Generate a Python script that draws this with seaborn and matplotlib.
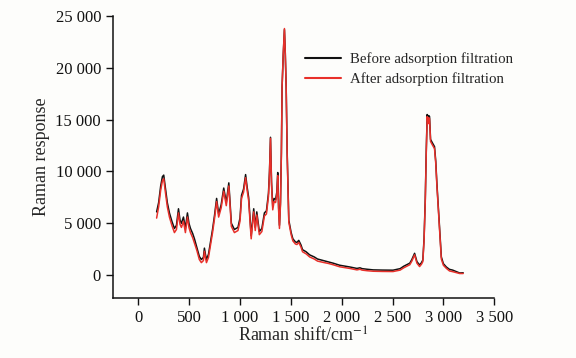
import numpy as np
import pandas as pd
import matplotlib
matplotlib.use("Agg")
import matplotlib.pyplot as plt
import matplotlib.ticker as mticker
import seaborn as sns

# Raman spectrum (cm^-1 and response), 10 points per row
shift = [180, 200, 220, 237, 250, 265, 285, 306, 330, 355,
         375, 395, 410, 424, 444, 463, 483, 498, 513, 535,
         552, 575, 600, 620, 640, 650, 660, 670, 690, 710,
         730, 750, 770, 790, 815, 840, 865, 890, 915, 945,
         980, 1000, 1015, 1035, 1055, 1070, 1085, 1110, 1135, 1150,
         1165, 1190, 1215, 1240, 1260, 1280, 1290, 1300, 1310, 1322,
         1335, 1350, 1362, 1371, 1380, 1388, 1398, 1407, 1414, 1425,
         1437, 1445, 1454, 1464, 1480, 1503, 1520, 1545, 1560, 1578,
         1600, 1615, 1650, 1685, 1730, 1762, 1820, 1870, 1915, 1980,
         2080, 2150, 2180, 2200, 2250, 2310, 2400, 2505, 2575, 2610,
         2640, 2670, 2690, 2717, 2740, 2766, 2785, 2798, 2810, 2822,
         2832, 2841, 2848, 2855, 2864, 2874, 2890, 2913, 2925, 2936,
         2956, 2980, 3000, 3029, 3060, 3091, 3160, 3195]

before = [6100, 7000, 8600, 9500, 9650, 8500, 7000, 6000, 5200, 4500,
          4800, 6400, 5300, 5000, 5600, 4500, 6000, 5000, 4500, 4000,
          3500, 2700, 1800, 1500, 1700, 2600, 2000, 1500, 2000, 3200,
          4400, 5800, 7400, 5900, 6800, 8400, 7000, 8900, 5000, 4400,
          4600, 5500, 7700, 8300, 9700, 8500, 7500, 3800, 6400, 4600,
          6100, 4200, 4500, 6000, 6200, 7900, 10000, 13300, 9000, 6600,
          7400, 7300, 8000, 9900, 6500, 4800, 7000, 11800, 18200, 21200,
          23700, 21500, 18200, 11800, 5300, 4100, 3500, 3200, 3150, 3350,
          2900, 2450, 2250, 1950, 1750, 1550, 1400, 1280, 1150, 950,
          780, 640, 700, 620, 560, 500, 480, 470, 620, 850,
          1000, 1150, 1500, 2100, 1300, 970, 1200, 1450, 3500, 7300,
          12100, 15500, 14800, 15400, 15300, 13100, 12800, 12400, 11000, 8900,
          5600, 1750, 1100, 780, 550, 480, 200, 220]

after = [5500, 6600, 8200, 9100, 9300, 8100, 6600, 5600, 4800, 4100,
         4400, 6000, 4900, 4600, 5200, 4100, 5600, 4600, 4100, 3600,
         3100, 2400, 1500, 1200, 1400, 2300, 1700, 1200, 1700, 2900,
         4100, 5500, 7100, 5600, 6500, 8100, 6700, 8600, 4700, 4100,
         4300, 5200, 7400, 8000, 9400, 8200, 7200, 3500, 6100, 4300,
         5800, 3900, 4200, 5700, 5900, 7600, 9800, 13200, 8700, 6300,
         7100, 7000, 7700, 9600, 6200, 4500, 6800, 11700, 18200, 21300,
         23800, 21500, 18100, 11600, 5100, 3900, 3300, 3000, 2950, 3150,
         2700, 2250, 2050, 1750, 1550, 1350, 1220, 1120, 1000, 800,
         640, 500, 560, 480, 420, 370, 350, 340, 480, 700,
         850, 1000, 1350, 1950, 1150, 820, 1050, 1300, 3300, 7100,
         11900, 15300, 14600, 15200, 15100, 12900, 12600, 12200, 10800, 8700,
         5400, 1550, 950, 650, 400, 330, 150, 150]

df = pd.concat([
    pd.DataFrame({"shift": shift, "resp": before, "sample": "Before adsorption filtration"}),
    pd.DataFrame({"shift": shift, "resp": after, "sample": "After adsorption filtration"}),
])

sns.set_style("ticks")
plt.rcParams["font.family"] = ["Liberation Serif", "DejaVu Serif"]
plt.rcParams["mathtext.fontset"] = "stix"

fig = plt.figure(figsize=(5.76, 3.58), dpi=100, facecolor="#fdfdfb")
ax = fig.add_axes([0.196, 0.168, 0.662, 0.787])
ax.set_facecolor("#fdfdfb")

sns.lineplot(data=df, x="shift", y="resp", hue="sample", sort=False,
             palette={"Before adsorption filtration": "#111111",
                      "After adsorption filtration": "#e8302a"},
             linewidth=1.1, ax=ax)

ax.set_xlim(-250, 3500)
ax.set_ylim(-2200, 25000)
ax.set_xticks(np.arange(0, 3501, 500))
ax.set_yticks(np.arange(0, 25001, 5000))
fmt = mticker.FuncFormatter(lambda v, p: f"{int(v):,}".replace(",", " "))
ax.xaxis.set_major_formatter(fmt)
ax.yaxis.set_major_formatter(fmt)
ax.tick_params(labelsize=12, length=5, width=1, direction="out", colors="#111111")
for s in ["top", "right"]:
    ax.spines[s].set_visible(False)
for s in ["left", "bottom"]:
    ax.spines[s].set_linewidth(1.1)
    ax.spines[s].set_color("#111111")

ax.set_xlabel("Raman shift/cm$^{-1}$", fontsize=13, labelpad=1)
ax.set_ylabel("Raman response", fontsize=13, labelpad=4)

leg = ax.legend(loc="upper left", bbox_to_anchor=(0.468, 0.92), frameon=False,
                fontsize=10.7, handlelength=2.45, handletextpad=0.6, labelspacing=0.45)
for line in leg.get_lines():
    line.set_linewidth(1.5)

fig.savefig("out.png", dpi=100, facecolor=fig.get_facecolor())
